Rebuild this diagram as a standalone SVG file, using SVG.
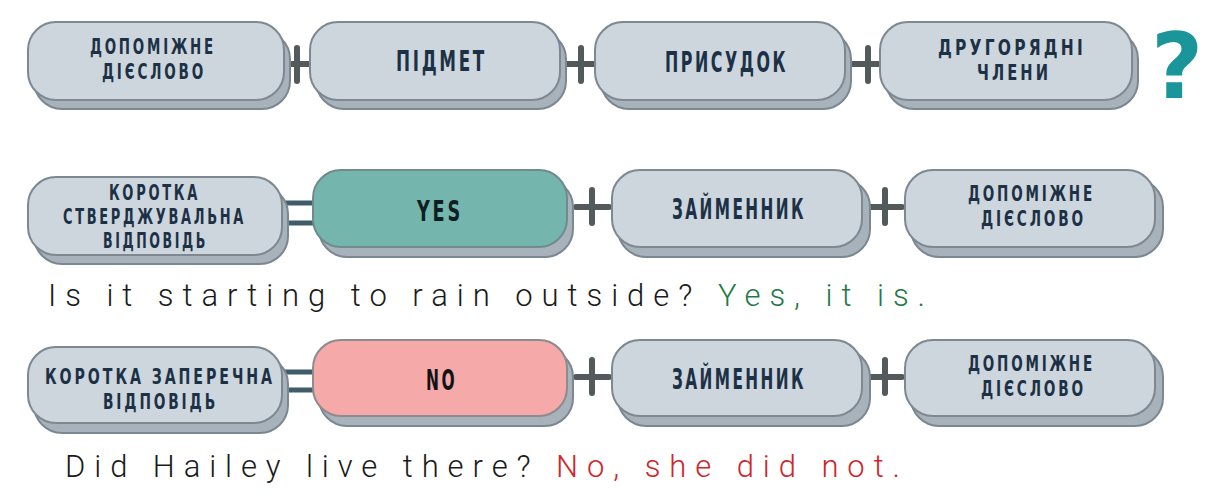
<svg xmlns="http://www.w3.org/2000/svg" width="1230" height="502" viewBox="0 0 1230 502">
<style>
.sh{fill:#a8b2ba;stroke:#7b8791;stroke-width:2}
.fr{fill:#cdd5dd;stroke:#7d8891;stroke-width:2}
.yes{fill:#74b6ad;stroke:#6f8c8b;stroke-width:2}
.no{fill:#f6a9a9;stroke:#8d8b8f;stroke-width:2}
.lb{font-family:"DejaVu Sans Condensed","DejaVu Sans",sans-serif;font-stretch:condensed;font-weight:bold;fill:#1c3146;letter-spacing:4px}
.s{font-size:21.5px}
.b{font-size:28px}
.plus{stroke:#535a5c;stroke-width:6;stroke-linecap:round;fill:none}
.eq{stroke:#3f5c68;stroke-width:5;fill:none}
.body{font-family:Roboto,Inter,"Liberation Sans",sans-serif;font-weight:300;font-size:31px;fill:#1a1a1a}
</style>
<rect width="1230" height="502" fill="#ffffff"/>

<g id="connectors">
  <path class="plus" d="M281 64H314M297 48V81"/>
  <path class="plus" d="M566 64H599M581 48V81"/>
  <path class="plus" d="M851 64H884M868 48V81"/>
  <path class="eq" d="M282 203H314M282 223H314"/>
  <path class="plus" d="M576 207H609M592 190V223"/>
  <path class="plus" d="M869 207H902M885 190V223"/>
  <path class="eq" d="M282 372H314M282 390H314"/>
  <path class="plus" d="M576 377H609M592 360V393"/>
  <path class="plus" d="M869 377H902M885 360V393"/>
</g>

<g id="n1">
  <rect class="sh" x="34" y="31" width="256" height="78" rx="28"/>
  <rect class="fr" x="28" y="22" width="256" height="78" rx="28"/>
  <text class="lb s" x="90" y="54" textLength="126" lengthAdjust="spacingAndGlyphs">ДОПОМІЖНЕ</text>
  <text class="lb s" x="102" y="79" textLength="104" lengthAdjust="spacingAndGlyphs">ДІЄСЛОВО</text>
</g>
<g id="n2">
  <rect class="sh" x="316" y="31" width="250" height="78" rx="28"/>
  <rect class="fr" x="310" y="22" width="250" height="78" rx="28"/>
  <text class="lb b" x="396" y="71" textLength="91" lengthAdjust="spacingAndGlyphs">ПІДМЕТ</text>
</g>
<g id="n3">
  <rect class="sh" x="601" y="31" width="250" height="78" rx="28"/>
  <rect class="fr" x="595" y="22" width="250" height="78" rx="28"/>
  <text class="lb b" x="665" y="72" textLength="123" lengthAdjust="spacingAndGlyphs">ПРИСУДОК</text>
</g>
<g id="n4">
  <rect class="sh" x="886" y="31" width="252" height="78" rx="28"/>
  <rect class="fr" x="880" y="22" width="252" height="78" rx="28"/>
  <text class="lb s" x="938" y="55" textLength="148" lengthAdjust="spacingAndGlyphs">ДРУГОРЯДНІ</text>
  <text class="lb s" x="977" y="80" textLength="74" lengthAdjust="spacingAndGlyphs">ЧЛЕНИ</text>
</g>
<g id="q">
  <text x="1177" y="98" text-anchor="middle" font-family="DejaVu Sans,sans-serif" font-weight="bold" font-size="90" fill="#1a959a">?</text>
</g>

<g id="n5">
  <rect class="sh" x="34" y="186" width="254" height="78" rx="28"/>
  <rect class="fr" x="28" y="177" width="254" height="78" rx="28"/>
  <text class="lb s" x="109" y="200" textLength="91" lengthAdjust="spacingAndGlyphs">КОРОТКА</text>
  <text class="lb s" x="63" y="224" textLength="183" lengthAdjust="spacingAndGlyphs">СТВЕРДЖУВАЛЬНА</text>
  <text class="lb s" x="103" y="248" textLength="105" lengthAdjust="spacingAndGlyphs">ВІДПОВІДЬ</text>
</g>
<g id="n6">
  <rect class="sh" x="319" y="179" width="254" height="78" rx="28"/>
  <rect class="yes" x="313" y="170" width="254" height="77" rx="28"/>
  <text class="lb b" x="417" y="221" textLength="46" lengthAdjust="spacingAndGlyphs" style="fill:#0f1e24">YES</text>
</g>
<g id="n7">
  <rect class="sh" x="618" y="179" width="252" height="78" rx="28"/>
  <rect class="fr" x="612" y="170" width="250" height="77" rx="28"/>
  <text class="lb b" x="672" y="219" textLength="134" lengthAdjust="spacingAndGlyphs">ЗАЙМЕННИК</text>
</g>
<g id="n8">
  <rect class="sh" x="911" y="179" width="252" height="78" rx="28"/>
  <rect class="fr" x="905" y="170" width="250" height="77" rx="28"/>
  <text class="lb s" x="968" y="201" textLength="127" lengthAdjust="spacingAndGlyphs">ДОПОМІЖНЕ</text>
  <text class="lb s" x="981" y="226" textLength="105" lengthAdjust="spacingAndGlyphs">ДІЄСЛОВО</text>
</g>

<text class="body" x="48" y="306" textLength="877" lengthAdjust="spacing">Is it starting to rain outside? <tspan fill="#1f7a48">Yes, it is.</tspan></text>

<g id="n9">
  <rect class="sh" x="34" y="356" width="254" height="77" rx="28"/>
  <rect class="fr" x="28" y="347" width="254" height="76" rx="28"/>
  <text class="lb s" x="45" y="384" textLength="230" lengthAdjust="spacingAndGlyphs">КОРОТКА ЗАПЕРЕЧНА</text>
  <text class="lb s" x="103" y="409" textLength="115" lengthAdjust="spacingAndGlyphs">ВІДПОВІДЬ</text>
</g>
<g id="n10">
  <rect class="sh" x="319" y="349" width="254" height="77" rx="28"/>
  <rect class="no" x="313" y="340" width="254" height="76" rx="28"/>
  <text class="lb b" x="426" y="390" textLength="31" lengthAdjust="spacingAndGlyphs" style="fill:#111416">NO</text>
</g>
<g id="n11">
  <rect class="sh" x="618" y="349" width="252" height="77" rx="28"/>
  <rect class="fr" x="612" y="340" width="250" height="76" rx="28"/>
  <text class="lb b" x="672" y="389" textLength="134" lengthAdjust="spacingAndGlyphs">ЗАЙМЕННИК</text>
</g>
<g id="n12">
  <rect class="sh" x="911" y="349" width="252" height="77" rx="28"/>
  <rect class="fr" x="905" y="340" width="250" height="76" rx="28"/>
  <text class="lb s" x="968" y="371" textLength="127" lengthAdjust="spacingAndGlyphs">ДОПОМІЖНЕ</text>
  <text class="lb s" x="981" y="396" textLength="105" lengthAdjust="spacingAndGlyphs">ДІЄСЛОВО</text>
</g>

<text class="body" x="65" y="477" textLength="835" lengthAdjust="spacing">Did Hailey live there? <tspan fill="#d0262b">No, she did not.</tspan></text>
</svg>
